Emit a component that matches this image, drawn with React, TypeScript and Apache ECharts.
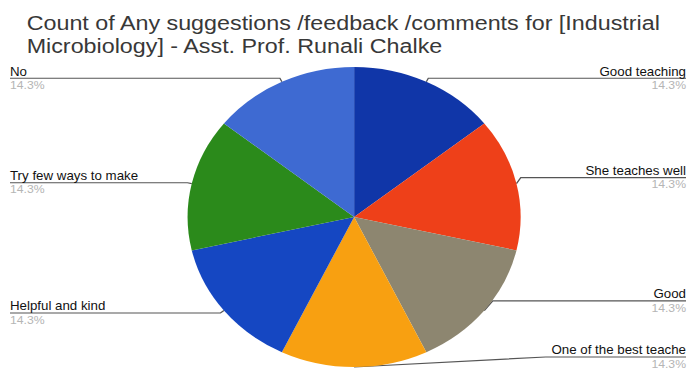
import React, { useEffect, useRef } from "react";
import * as echarts from "echarts";

const titleText = "Count of Any suggestions /feedback /comments for [Industrial\nMicrobiology] - Asst. Prof. Runali Chalke";
const categories = [
  "Good teaching",
  "She teaches well",
  "Good",
  "One of the best teache",
  "Helpful and kind",
  "Try few ways to make",
  "No",
];
const counts = [1, 1, 1, 1, 1, 1, 1];
const colors = ["#1036a8", "#ee4019", "#8d8670", "#f8a011", "#1547c2", "#2b8a1b", "#3e6ad2"];

const W = 627;
const H = 372;
const SX = 696 / W;

export default function App() {
  const ref = useRef<HTMLDivElement>(null);
  useEffect(() => {
    if (!ref.current) return;
    const chart = echarts.init(ref.current, null, { renderer: "svg" });
    const total = counts.reduce((a, b) => a + b, 0);
    chart.setOption({
      animation: false,
      backgroundColor: "#ffffff",
      title: {
        text: titleText,
        left: 19,
        top: 6,
        textStyle: {
          fontFamily: "Liberation Sans",
          fontSize: 21,
          fontWeight: "normal",
          color: "#383838",
          lineHeight: 23,
        },
      },
      series: [
        {
          type: "pie",
          center: [319, 217],
          radius: 150,
          startAngle: 90,
          clockwise: true,
          data: categories.map((c, i) => ({
            name: c,
            value: counts[i],
            itemStyle: { color: colors[i] },
          })),
          itemStyle: { borderWidth: 0 },
          label: {
            alignTo: "edge",
            edgeDistance: 9,
            minMargin: 4,
            formatter: (p: any) =>
              `{name|${p.name}}\n{pct|${((p.value / total) * 100).toFixed(1)}%}`,
            lineHeight: 13,
            rich: {
              name: { fontFamily: "Liberation Sans", fontSize: 12, color: "#111", lineHeight: 13 },
              pct: { fontFamily: "Liberation Sans", fontSize: 11, color: "#b5b5b5", lineHeight: 13 },
            },
          },
          labelLine: {
            length: 4,
            length2: 0,
            lineStyle: { color: "#555", width: 1.2 },
          },
          labelLayout: (params: any) => {
            const isLeft = params.labelRect.x < W / 2;
            const points = params.labelLinePoints;
            if (points) {
              points[2][0] = isLeft
                ? params.labelRect.x
                : params.labelRect.x + params.labelRect.width;
            }
            return { labelLinePoints: points };
          },
        },
      ],
    });
    return () => chart.dispose();
  }, []);
  return (
    <div
      style={{
        position: "fixed",
        left: 0,
        top: 0,
        width: 696,
        height: 372,
        overflow: "hidden",
        background: "#fff",
      }}
    >
      <div
        ref={ref}
        style={{
          width: W,
          height: H,
          transform: `scaleX(${SX})`,
          transformOrigin: "0 0",
        }}
      />
    </div>
  );
}
